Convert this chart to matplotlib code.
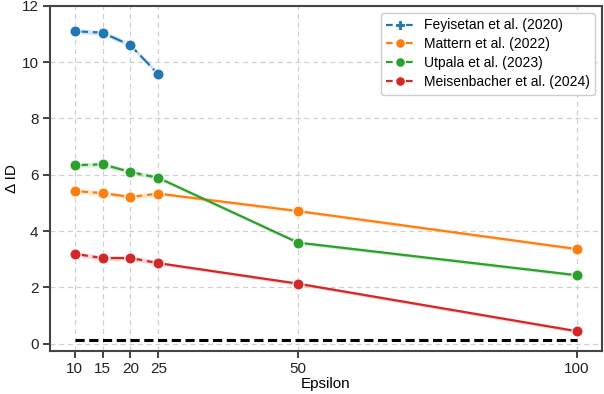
import matplotlib
matplotlib.use("Agg")
import matplotlib.pyplot as plt
from matplotlib.lines import Line2D

plt.rcParams['font.family'] = ['Liberation Sans', 'DejaVu Sans']

eps = [10, 15, 20, 25, 50, 100]
feyisetan = [11.1, 11.05, 10.6, 9.57]
mattern = [5.42, 5.35, 5.21, 5.33, 4.71, 3.36]
utpala = [6.34, 6.37, 6.1, 5.89, 3.59, 2.43]
meisen = [3.19, 3.04, 3.04, 2.86, 2.13, 0.44]
baseline = [0.13, 0.13]
baseline_x = [10, 100]

series = [
    ("Feyisetan et al. (2020)", feyisetan, "#1f77b4"),
    ("Mattern et al. (2022)", mattern, "#ff7f0e"),
    ("Utpala et al. (2023)", utpala, "#2ca02c"),
    ("Meisenbacher et al. (2024)", meisen, "#d62728"),
]

fig, ax = plt.subplots(figsize=(6.04, 3.94), dpi=100)
ax.grid(True, color="#d0d0d0", linestyle=(0, (4, 3)), linewidth=0.9)
ax.set_axisbelow(True)

handles = []
for name, vals, col in series:
    n = len(vals)
    x = eps[:n]
    k = min(n, 4)
    ax.fill_between(x[:k], [v - 0.08 for v in vals[:k]], [v + 0.08 for v in vals[:k]],
                    color=col, alpha=0.2, linewidth=0)
    ax.plot(x[:k], vals[:k], color=col, linewidth=1.6, dashes=(6, 2.2), zorder=3)
    if n > 4:
        ax.fill_between(x[3:], [v - 0.06 for v in vals[3:]], [v + 0.06 for v in vals[3:]],
                        color=col, alpha=0.2, linewidth=0)
        ax.plot(x[3:], vals[3:], color=col, linewidth=1.6, zorder=3)
    ax.plot(x, vals, linestyle="none", marker="o", markersize=8, color=col,
            markeredgecolor="white", markeredgewidth=0.8, zorder=4)
    handles.append(Line2D([0], [0], color=col, linewidth=1.6, dashes=(3, 1.5),
                          marker="P" if name.startswith("Fey") else "o", markersize=7,
                          markeredgecolor="white", markeredgewidth=0.8))

ax.plot(baseline_x, baseline, color="black", linewidth=2.2, dashes=(3, 1.5), zorder=3)

ax.set_xlim(5.5, 104.5)
ax.set_ylim(-0.25, 12)
ax.set_xticks([10, 15, 20, 25, 50, 100])
ax.set_yticks([0, 2, 4, 6, 8, 10, 12])
ax.tick_params(labelsize=11, colors="#222222", length=5, width=1.2, pad=3)
for s in ax.spines.values():
    s.set_linewidth(1.5)
    s.set_color("#444444")
ax.set_xlabel("Epsilon", fontsize=11, labelpad=1)
ax.set_ylabel("Δ ID", fontsize=11, labelpad=2)

ax.legend(handles, [s[0] for s in series], loc="upper right", fontsize=10,
          handlelength=1.9, framealpha=1, edgecolor="#cccccc", borderpad=0.4,
          labelspacing=0.35)

fig.subplots_adjust(left=0.082, right=0.997, top=0.985, bottom=0.11)
fig.savefig("out.png", dpi=100)
